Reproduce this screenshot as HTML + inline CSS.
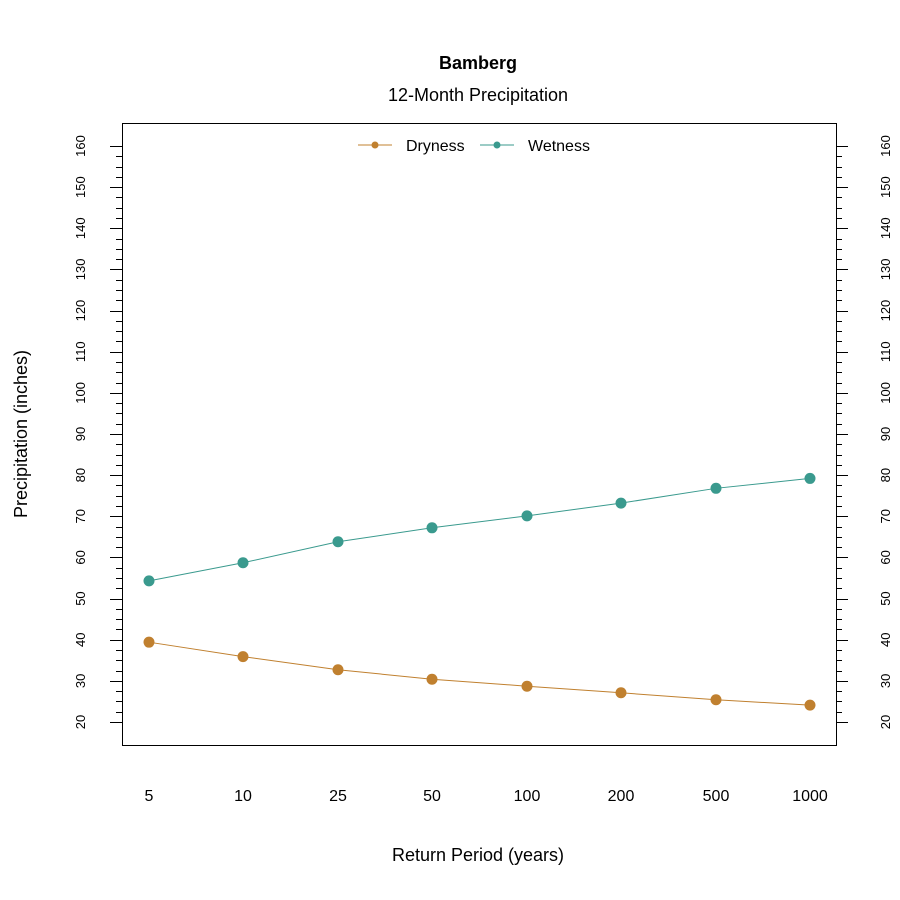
<!DOCTYPE html>
<html><head><meta charset="utf-8"><style>body{margin:0;background:#fff}svg{display:block}text{font-family:"Liberation Sans",Arial,sans-serif}</style></head>
<body>
<svg id="s" width="900" height="900" xmlns="http://www.w3.org/2000/svg">
<rect width="900" height="900" fill="#fff"/>
<text x="478" y="69" font-size="18" font-weight="bold" text-anchor="middle">Bamberg</text>
<text x="478" y="101" font-size="18" text-anchor="middle">12-Month Precipitation</text>
<text x="478" y="861" font-size="18" text-anchor="middle">Return Period (years)</text>
<text transform="translate(27,434) rotate(-90)" font-size="18" text-anchor="middle">Precipitation (inches)</text>
<rect x="122.5" y="123.5" width="714" height="622" fill="none" stroke="#000" stroke-width="1"/>
<g id="ticks" stroke="#000" stroke-width="1"></g>
<g id="labs" font-size="13"></g>
<g id="series"></g>
<line x1="358" y1="145" x2="392" y2="145" stroke="#C0802F"/>
<circle cx="375" cy="145" r="3.5" fill="#C0802F"/>
<text x="406" y="151" font-size="16">Dryness</text>
<line x1="480" y1="145" x2="514" y2="145" stroke="#3A9A8E"/>
<circle cx="497" cy="145" r="3.5" fill="#3A9A8E"/>
<text x="528" y="151" font-size="16">Wetness</text>
</svg>
<script>
var ns="http://www.w3.org/2000/svg";
function el(t,a,p,txt){var e=document.createElementNS(ns,t);for(var k in a)e.setAttribute(k,a[k]);if(txt)e.textContent=txt;document.getElementById(p).appendChild(e);return e;}
function Y(v){return 722-(v-20)*576/140;}
for(var v=20;v<=160;v+=2.5){var y=Math.round(Y(v))+0.5;var maj=v%10==0;
el('line',{x1:maj?110:116,y1:y,x2:122,y2:y},'ticks');
el('line',{x1:836,y1:y,x2:maj?848:842,y2:y},'ticks');
if(maj){el('text',{transform:'translate(85,'+Y(v)+') rotate(-90)','text-anchor':'middle'},'labs',String(v));
el('text',{transform:'translate(890,'+Y(v)+') rotate(-90)','text-anchor':'middle'},'labs',String(v));}}
var xs=[149,243,338,432,527,621,716,810],xl=['5','10','25','50','100','200','500','1000'];
xs.forEach(function(x,i){el('text',{x:x,y:801,'text-anchor':'middle','font-size':16},'labs',xl[i]);});
var d=[39.4,35.9,32.7,30.4,28.7,27.1,25.4,24.1],w=[54.3,58.7,63.8,67.2,70.1,73.2,76.8,79.2];
[[d,'#C0802F'],[w,'#3A9A8E']].forEach(function(s){var p=s[0].map(function(v,i){return xs[i]+','+Y(v)}).join(' ');
el('polyline',{points:p,fill:'none',stroke:s[1],'stroke-width':1},'series');
s[0].forEach(function(v,i){el('circle',{cx:xs[i],cy:Y(v),r:5.5,fill:s[1]},'series');});});
</script>
</body></html>
